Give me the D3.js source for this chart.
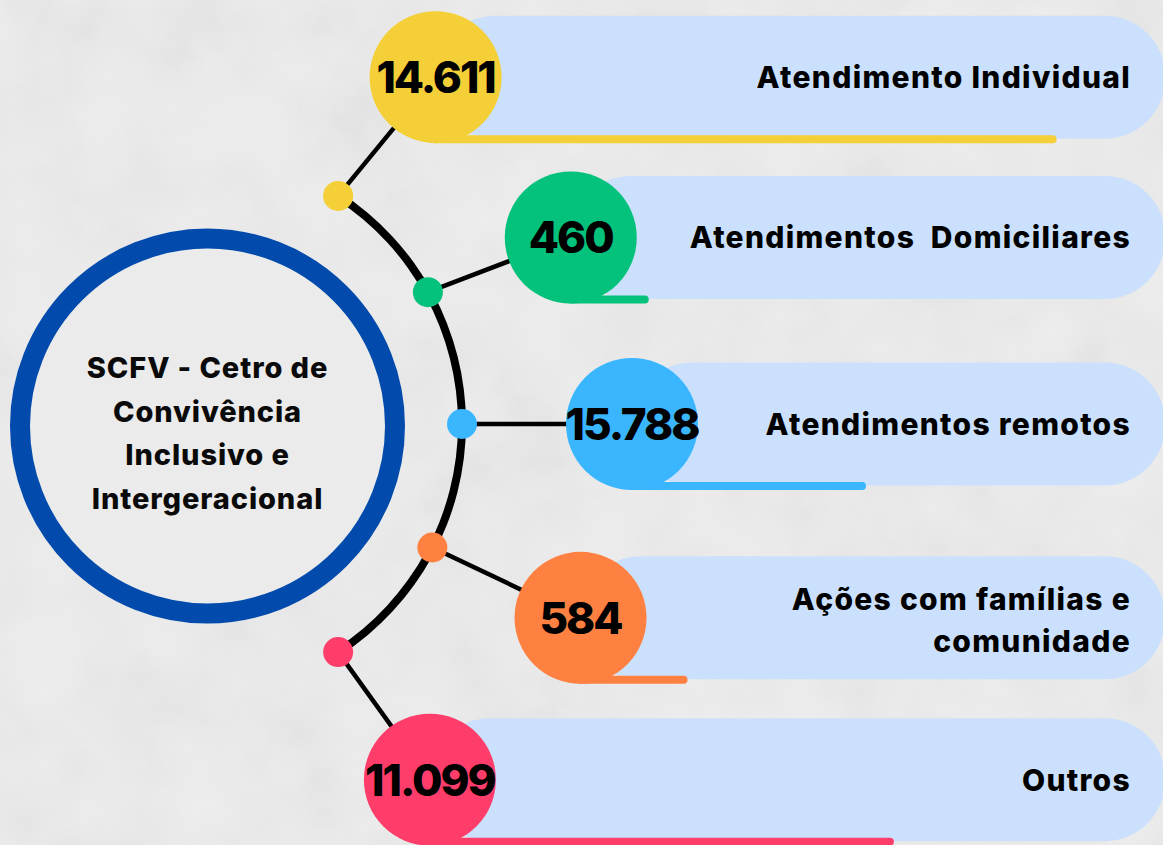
<!DOCTYPE html>
<html>
<head>
<meta charset="utf-8">
<script src="https://cdn.jsdelivr.net/npm/d3@7"></script>
<style>
  html, body { margin: 0; padding: 0; background: #ededed; }
  svg { display: block; font-family: Inter, 'Noto Sans', sans-serif; }
</style>
</head>
<body>
<div class="visContainer"></div>
<script>
const categories = ['Atendimento Individual', 'Atendimentos  Domiciliares', 'Atendimentos remotos', 'Ações com famílias e|comunidade', 'Outros'];
const values = [14611, 460, 15788, 584, 11099];
const colors = ['#f5cf37', '#04c17b', '#3ab6ff', '#ff8142', '#ff3d6b'];
const titleLines = ['SCFV - Cetro de', 'Convivência', 'Inclusivo e', 'Intergeracional'];

// layout: polar placement around the spine centre, decorative underline length
const dotAngles = [-57, -29, 0, 27, 57];
const bubbleAngles = [-54.7, -26.1, 0, 26.4, 56];
const bubbleDist = [425, 424, 442, 436, 429];
const underline = [617, 74, 230, 103, 460];

const width = 1163;
const height = 845;

const ptBR = d3.formatLocale({ decimal: ',', thousands: '.', grouping: [3], currency: ['R$', ''] });
const fmt = ptBR.format(',');

const svg = d3.select('.visContainer')
  .append('svg')
  .attr('width', width)
  .attr('height', height);

// paper-ish background
const defs = svg.append('defs');
const noise = defs.append('filter').attr('id', 'noise').attr('x', 0).attr('y', 0).attr('width', '100%').attr('height', '100%');
noise.append('feTurbulence').attr('type', 'fractalNoise').attr('baseFrequency', 0.012).attr('numOctaves', 4).attr('seed', 3);
noise.append('feColorMatrix').attr('type', 'saturate').attr('values', 0);

svg.append('rect').attr('width', width).attr('height', height).attr('fill', '#ededed');
svg.append('rect').attr('width', width).attr('height', height).attr('filter', 'url(#noise)').attr('opacity', 0.16);

// the spine arc and where things sit along it
const cx = 190, cy = 424;
const spineR = 272;
const rad = (a) => a * Math.PI / 180;

const idx = d3.range(values.length);
const dotAngle = d3.scaleLinear().domain(idx).range(dotAngles);
const bubbleAngle = d3.scaleLinear().domain(idx).range(bubbleAngles);
const bubbleR = d3.scaleLinear().domain(idx).range(bubbleDist);

const rows = values.map((v, i) => {
  const da = rad(dotAngle(i));
  const ba = rad(bubbleAngle(i));
  return {
    value: v,
    label: categories[i],
    color: colors[i],
    dx: cx + spineR * Math.cos(da),
    dy: cy + spineR * Math.sin(da),
    bx: cx + bubbleR(i) * Math.cos(ba),
    by: cy + bubbleR(i) * Math.sin(ba),
    line: underline[i]
  };
});

const bubbleSize = 66;
const pillH = 123;

// pills
svg.selectAll('rect.pill')
  .data(rows)
  .enter()
  .append('rect')
  .attr('class', 'pill')
  .attr('x', (d) => d.bx)
  .attr('y', (d) => d.by - pillH / 2)
  .attr('width', (d) => 1165 - d.bx)
  .attr('height', pillH)
  .attr('rx', 60)
  .attr('fill', '#cbe0fc');

// coloured underline bars
svg.selectAll('line.bar')
  .data(rows)
  .enter()
  .append('line')
  .attr('class', 'bar')
  .attr('x1', (d) => d.bx)
  .attr('x2', (d) => d.bx + d.line)
  .attr('y1', (d) => d.by + 62)
  .attr('y2', (d) => d.by + 62)
  .attr('stroke', (d) => d.color)
  .attr('stroke-width', 8)
  .attr('stroke-linecap', 'round');

// connectors
svg.selectAll('line.link')
  .data(rows)
  .enter()
  .append('line')
  .attr('class', 'link')
  .attr('x1', (d) => d.dx)
  .attr('y1', (d) => d.dy)
  .attr('x2', (d) => d.bx)
  .attr('y2', (d) => d.by)
  .attr('stroke', '#000')
  .attr('stroke-width', 4.5);

// spine
const arc = d3.arc()
  .innerRadius(spineR - 4)
  .outerRadius(spineR + 4)
  .startAngle(rad(dotAngles[0] + 90))
  .endAngle(rad(dotAngles[dotAngles.length - 1] + 90));
svg.append('path')
  .attr('d', arc())
  .attr('transform', 'translate(' + cx + ',' + cy + ')')
  .attr('fill', '#000');

svg.selectAll('circle.dot')
  .data(rows)
  .enter()
  .append('circle')
  .attr('class', 'dot')
  .attr('cx', (d) => d.dx)
  .attr('cy', (d) => d.dy)
  .attr('r', 15)
  .attr('fill', (d) => d.color);

// big title circle
svg.append('circle')
  .attr('cx', 207.5)
  .attr('cy', 426)
  .attr('r', 187.5)
  .attr('fill', '#ebebeb')
  .attr('stroke', '#024bad')
  .attr('stroke-width', 20);

svg.append('text')
  .attr('text-anchor', 'middle')
  .attr('font-size', 29)
  .attr('font-weight', 800)
  .attr('letter-spacing', 0.9)
  .attr('fill', '#0a0a0a')
  .selectAll('tspan')
  .data(titleLines)
  .enter()
  .append('tspan')
  .attr('x', 207.5)
  .attr('y', (d, i) => 378 + i * 43.5)
  .text((d) => d);

// value bubbles
svg.selectAll('circle.bubble')
  .data(rows)
  .enter()
  .append('circle')
  .attr('class', 'bubble')
  .attr('cx', (d) => d.bx)
  .attr('cy', (d) => d.by)
  .attr('r', bubbleSize)
  .attr('fill', (d) => d.color);

svg.selectAll('text.value')
  .data(rows)
  .enter()
  .append('text')
  .attr('class', 'value')
  .attr('x', (d) => d.bx)
  .attr('y', (d) => d.by + 16)
  .attr('text-anchor', 'middle')
  .attr('font-size', 44)
  .attr('font-weight', 800)
  .attr('letter-spacing', -2)
  .attr('fill', '#000')
  .text((d) => fmt(d.value));

// category labels, right aligned inside the pill
const labels = svg.selectAll('text.label')
  .data(rows)
  .enter()
  .append('text')
  .attr('class', 'label')
  .attr('text-anchor', 'end')
  .attr('font-size', 30)
  .attr('font-weight', 800)
  .attr('letter-spacing', 1.3)
  .attr('fill', '#000')
  .attr('xml:space', 'preserve');

labels.each(function (d) {
  const parts = d.label.split('|');
  const top = d.by + 11 - (parts.length - 1) * 19;
  d3.select(this).selectAll('tspan')
    .data(parts)
    .enter()
    .append('tspan')
    .attr('x', 1131)
    .attr('y', (p, i) => top + i * 42)
    .text((p) => p);
});
</script>
</body>
</html>
